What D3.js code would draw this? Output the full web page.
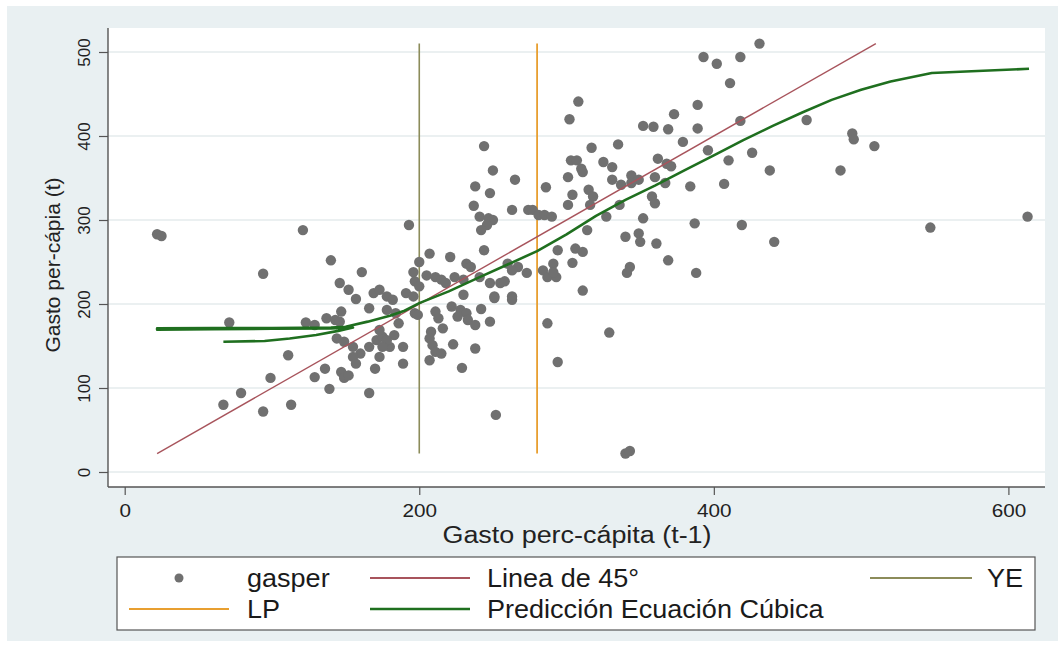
<!DOCTYPE html>
<html>
<head>
<meta charset="utf-8">
<script src="https://cdn.jsdelivr.net/npm/d3@7"></script>
<style>
  html, body { margin: 0; padding: 0; background: #ffffff; }
  svg { display: block; font-family: "Liberation Sans", Arial, sans-serif; }
</style>
</head>
<body>
<svg id="chart" width="1062" height="646"></svg>
<script>
// ---------------- DATA ----------------
// gasper: x = Gasto perc-cápita (t-1), y = Gasto per-cápia (t)
const gasperX = [22,25,121,140,161,94,146,152,157,169,173,178,182,166,178,184,147,71,123,129,137,143,146,
  144,149,155,160,155,157,166,171,175,180,173,170,111,136,129,147,149,152,99,79,67,94,113,139,166,
  244,250,265,286,238,248,237,241,247,250,246,242,263,274,277,281,285,290,193,244,207,221,232,235,
  200,196,197,200,205,211,215,218,224,230,241,248,255,258,260,267,273,263,284,287,291,293,191,196,230,251,263,
  251,263,242,222,228,232,226,233,238,248,211,213,216,208,207,209,211,215,207,197,199,223,238,229,
  189,189,186,183,178,175,173,252,287,294,
  393,402,418,431,411,308,302,389,373,352,359,369,389,418,317,335,379,396,426,303,307,310,311,325,331,
  362,368,371,410,301,331,344,349,360,367,384,407,315,318,304,301,316,337,344,358,360,327,336,352,387,419,
  340,349,350,361,369,388,343,341,306,311,304,314,294,291,311,329,340,343,
  463,494,495,509,438,486,441,547,613];
const gasperY = [283,281,288,252,238,236,225,217,206,213,217,209,205,195,193,189,191,178,178,175,183,181,179,
  159,155,149,141,137,129,149,157,161,149,137,123,139,123,113,119,112,115,112,94,80,72,80,99,94,
  388,359,348,339,340,332,317,304,302,300,294,288,312,312,312,306,306,304,294,264,260,256,248,244,
  250,238,227,221,234,232,229,225,232,229,232,225,225,227,248,244,237,240,240,232,248,232,213,209,211,209,209,
  207,205,194,197,193,189,185,181,175,179,191,183,171,167,159,151,143,141,133,189,187,152,147,124,
  149,129,177,163,157,149,169,68,177,131,
  494,486,494,510,463,441,420,437,426,412,411,408,409,418,386,390,393,383,380,371,371,361,357,369,363,
  373,367,364,371,351,348,353,348,351,344,340,343,336,328,330,318,318,342,344,328,320,304,318,302,296,294,
  280,284,274,272,252,237,244,237,266,262,249,288,264,238,216,166,22,25,
  419,403,396,388,359,359,274,291,304];

// Predicción Ecuación Cúbica (drawn in data order, as in the original)
const predX = [67,95,112,130,145,155,140,100,60,22,22,60,100,140,150,165,180,190,200,220,241,260,280,300,
  320,340,360,380,400,420,440,460,480,500,520,548,575,614];
const predY = [155,156,159,163,168,172,171,170.5,170,169.5,171,171.5,171.5,172,173,179,186,192,201,215,232,247,
  263,283,305,324,341,359,377,395,412,428,443,455,465,475,477,480];

const line45 = [22, 510];      // Línea de 45° from min to max of gasper
const yeValue = 200;           // YE
const lpValue = 280;           // LP
const vRange = [22, 510];      // vertical extent of YE / LP

const xTicks = [0, 200, 400, 600];
const yTicks = [0, 100, 200, 300, 400, 500];

const legendItems = [
  { name: "gasper", type: "point", color: "#707070" },
  { name: "Linea de 45°", type: "line", color: "#a8545c" },
  { name: "YE", type: "line", color: "#8c8c5a" },
  { name: "LP", type: "line", color: "#e89f30" },
  { name: "Predicción Ecuación Cúbica", type: "line", color: "#1f6f1f" }
];

// ---------------- LAYOUT ----------------
const svg = d3.select("#chart");
const plot = { left: 108, right: 1045, top: 28, bottom: 487 };

const x = d3.scaleLinear().domain([0, 600]).range([124.7, 1008.4]);
const y = d3.scaleLinear().domain([0, 500]).range([472, 52]);

// graph region background
svg.append("rect").attr("x", 7).attr("y", 6).attr("width", 1051).attr("height", 635)
  .attr("fill", "#e9f0f2");
// plot region
svg.append("rect").attr("x", plot.left).attr("y", plot.top)
  .attr("width", plot.right - plot.left).attr("height", plot.bottom - plot.top)
  .attr("fill", "#ffffff");

// gridlines
svg.append("g").selectAll("line").data(yTicks).join("line")
  .attr("x1", plot.left).attr("x2", plot.right)
  .attr("y1", d => y(d)).attr("y2", d => y(d))
  .attr("stroke", "#e4ebed").attr("stroke-width", 1.3);

// vertical reference lines
svg.append("line").attr("x1", x(yeValue)).attr("x2", x(yeValue))
  .attr("y1", y(vRange[0])).attr("y2", y(vRange[1]))
  .attr("stroke", legendItems[2].color).attr("stroke-width", 1.6);
svg.append("line").attr("x1", x(lpValue)).attr("x2", x(lpValue))
  .attr("y1", y(vRange[0])).attr("y2", y(vRange[1]))
  .attr("stroke", legendItems[3].color).attr("stroke-width", 1.8);

// scatter
const pts = gasperX.map((v, i) => [v, gasperY[i]]);
svg.append("g").selectAll("circle").data(pts).join("circle")
  .attr("cx", d => x(d[0])).attr("cy", d => y(d[1])).attr("r", 5.2)
  .attr("fill", legendItems[0].color);

// 45 degree line
svg.append("line").attr("x1", x(line45[0])).attr("y1", y(line45[0]))
  .attr("x2", x(line45[1])).attr("y2", y(line45[1]))
  .attr("stroke", legendItems[1].color).attr("stroke-width", 1.4);

// prediction curve
const predPts = predX.map((v, i) => [v, predY[i]]);
svg.append("path").datum(predPts)
  .attr("d", d3.line().x(d => x(d[0])).y(d => y(d[1])))
  .attr("fill", "none").attr("stroke", legendItems[4].color)
  .attr("stroke-width", 2.6).attr("stroke-linejoin", "round");

// axes
const yAxis = svg.append("g").attr("transform", `translate(${plot.left},0)`)
  .call(d3.axisLeft(y).tickValues(yTicks).tickSize(9).tickSizeOuter(0));
yAxis.select(".domain").remove();
yAxis.selectAll(".tick line").attr("stroke", "#555").attr("stroke-width", 1.2);
yAxis.selectAll(".tick text")
  .attr("x", null).attr("dy", null)
  .attr("transform", "translate(-18,0) rotate(-90)")
  .attr("text-anchor", "middle")
  .attr("font-size", 17).attr("font-family", "Liberation Sans, Arial, sans-serif")
  .attr("fill", "#222");

const xAxis = svg.append("g").attr("transform", `translate(0,${plot.bottom})`)
  .call(d3.axisBottom(x).tickValues(xTicks).tickSize(8).tickSizeOuter(0));
xAxis.select(".domain").remove();
xAxis.selectAll(".tick line").attr("stroke", "#555").attr("stroke-width", 1.2);
xAxis.selectAll(".tick text")
  .attr("y", 30).attr("dy", null)
  .attr("transform", "scale(1.09,1)")
  .attr("font-size", 19).attr("font-family", "Liberation Sans, Arial, sans-serif")
  .attr("fill", "#222");

// axis lines
svg.append("line").attr("x1", plot.left).attr("x2", plot.left)
  .attr("y1", plot.top).attr("y2", plot.bottom).attr("stroke", "#555").attr("stroke-width", 1.4);
svg.append("line").attr("x1", plot.left).attr("x2", plot.right)
  .attr("y1", plot.bottom).attr("y2", plot.bottom).attr("stroke", "#555").attr("stroke-width", 1.4);

// axis titles
svg.append("text").attr("transform", "translate(577,543) scale(1.17,1)")
  .attr("text-anchor", "middle").attr("font-size", 23).attr("fill", "#222")
  .text("Gasto perc-cápita (t-1)");
svg.append("text").attr("transform", "translate(60,265) rotate(-90)")
  .attr("text-anchor", "middle").attr("font-size", 21).attr("fill", "#222")
  .text("Gasto per-cápia (t)");

// legend
const lg = svg.append("g");
lg.append("rect").attr("x", 117).attr("y", 557).attr("width", 918).attr("height", 73)
  .attr("fill", "#ffffff").attr("stroke", "#555").attr("stroke-width", 1.2);
const slots = [
  { kx: 179, x1: 129, x2: 229, tx: 247, ty: 587 },
  { x1: 370, x2: 470, tx: 487, ty: 587 },
  { x1: 870, x2: 972, tx: 987, ty: 587 },
  { x1: 129, x2: 229, tx: 247, ty: 618 },
  { x1: 370, x2: 470, tx: 487, ty: 618 }
];
legendItems.forEach((it, i) => {
  const s = slots[i];
  const cy = s.ty - 9;
  if (it.type === "point") {
    lg.append("circle").attr("cx", s.kx).attr("cy", cy).attr("r", 4.5).attr("fill", it.color);
  } else {
    lg.append("line").attr("x1", s.x1).attr("x2", s.x2).attr("y1", cy).attr("y2", cy)
      .attr("stroke", it.color).attr("stroke-width", i === 4 ? 2.6 : 1.8);
  }
  lg.append("text").attr("transform", `translate(${s.tx},${s.ty}) scale(1.04,1)`)
    .attr("font-size", 26).attr("fill", "#1a1a1a").text(it.name);
});
</script>
</body>
</html>
